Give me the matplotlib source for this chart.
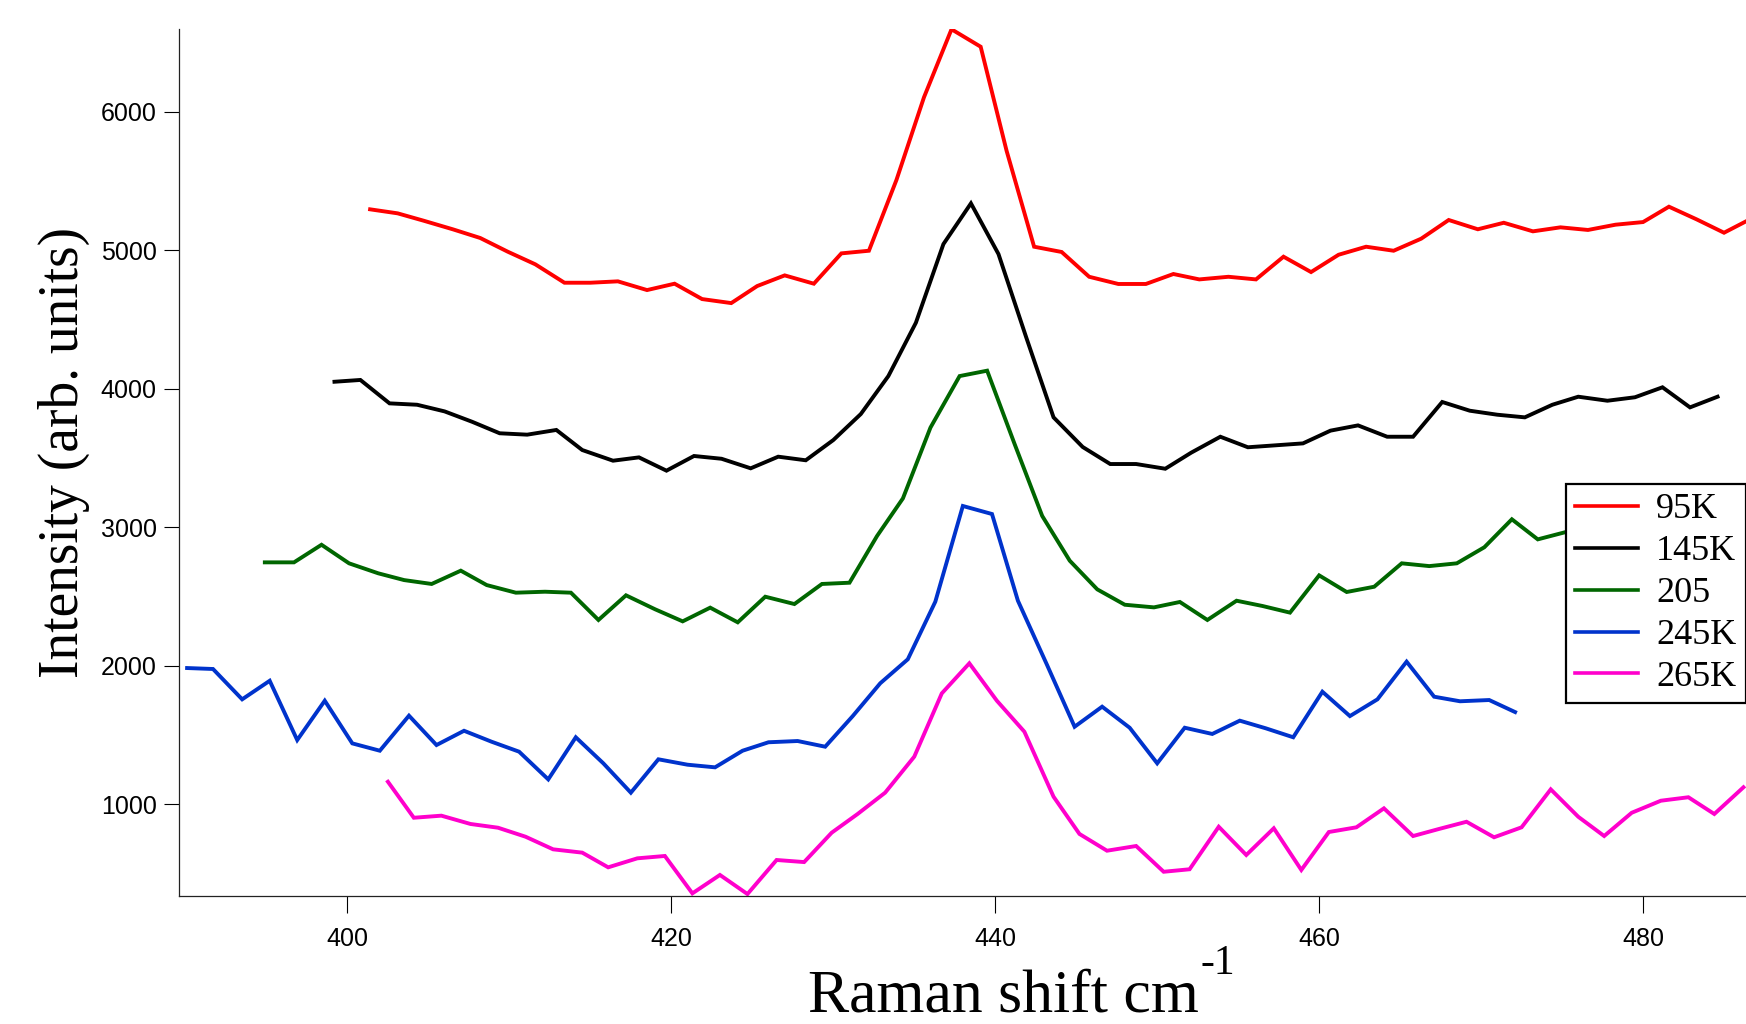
import matplotlib
matplotlib.use("Agg")
import matplotlib.pyplot as plt

# ---- data ----
x_95 = [401.4, 403.1, 404.7, 406.5, 408.2, 409.9, 411.6, 413.4, 415.0, 416.7, 418.5, 420.2, 421.9,
        423.7, 425.3, 427.0, 428.8, 430.5, 432.2, 433.9, 435.6, 437.3, 439.1, 440.7, 442.4, 444.1,
        445.8, 447.6, 449.3, 451.0, 452.6, 454.4, 456.1, 457.8, 459.5, 461.2, 462.9, 464.6, 466.3,
        468.0, 469.8, 471.4, 473.2, 474.9, 476.6, 478.3, 480.0, 481.6, 483.3, 485.0, 486.7]
y_95 = [5296, 5267, 5214, 5152, 5089, 4990, 4899, 4766, 4766, 4776, 4713, 4759, 4648,
        4619, 4742, 4819, 4759, 4978, 4997, 5508, 6105, 6596, 6470, 5719, 5026, 4988,
        4809, 4757, 4757, 4829, 4790, 4809, 4790, 4954, 4843, 4968, 5026, 4997, 5084,
        5219, 5152, 5199, 5137, 5166, 5147, 5185, 5204, 5315, 5224, 5127, 5230]

x_145 = [399.2, 400.8, 402.6, 404.3, 406.0, 407.7, 409.4, 411.1, 412.9, 414.5, 416.4, 418.0, 419.7,
         421.4, 423.1, 424.9, 426.6, 428.3, 430.0, 431.7, 433.4, 435.1, 436.8, 438.5, 440.2, 441.9,
         443.6, 445.4, 447.1, 448.7, 450.5, 452.1, 453.9, 455.6, 457.3, 459.0, 460.7, 462.4, 464.2,
         465.8, 467.6, 469.3, 471.0, 472.7, 474.4, 476.0, 477.8, 479.5, 481.2, 482.9, 484.6]
y_145 = [4051, 4064, 3895, 3885, 3837, 3762, 3679, 3669, 3703, 3558, 3481, 3505, 3409,
         3515, 3495, 3426, 3510, 3484, 3630, 3818, 4092, 4477, 5045, 5339, 4973, 4376,
         3794, 3580, 3457, 3457, 3423, 3539, 3654, 3578, 3592, 3606, 3698, 3736, 3654,
         3654, 3905, 3842, 3813, 3794, 3885, 3943, 3914, 3939, 4011, 3866, 3943]

x_205 = [394.9, 396.7, 398.4, 400.1, 401.9, 403.5, 405.2, 407.0, 408.6, 410.4, 412.2, 413.8, 415.5,
         417.2, 419.0, 420.7, 422.4, 424.1, 425.8, 427.6, 429.3, 431.0, 432.7, 434.3, 436.0, 437.8,
         439.5, 441.2, 442.9, 444.6, 446.3, 448.0, 449.8, 451.4, 453.1, 454.9, 456.5, 458.2, 460.0,
         461.7, 463.4, 465.1, 466.8, 468.5, 470.2, 471.9, 473.5, 475.3, 477.0]
y_205 = [2747, 2747, 2874, 2740, 2668, 2619, 2591, 2687, 2583, 2528, 2535, 2528, 2331,
         2509, 2408, 2321, 2420, 2314, 2499, 2446, 2591, 2600, 2937, 3209, 3720, 4092,
         4131, 3600, 3082, 2759, 2552, 2441, 2422, 2461, 2331, 2470, 2432, 2384, 2653,
         2533, 2571, 2740, 2720, 2740, 2856, 3058, 2913, 2968, 3050]

x_245 = [390.1, 391.7, 393.5, 395.2, 396.9, 398.6, 400.3, 402.0, 403.8, 405.5, 407.2, 408.9, 410.6,
         412.4, 414.1, 415.8, 417.5, 419.2, 421.0, 422.7, 424.4, 426.0, 427.8, 429.5, 431.2, 432.9,
         434.6, 436.3, 438.0, 439.8, 441.4, 443.2, 444.9, 446.6, 448.3, 450.0, 451.7, 453.4, 455.1,
         456.7, 458.4, 460.2, 461.9, 463.6, 465.4, 467.1, 468.7, 470.5, 472.1]
y_245 = [1984, 1977, 1758, 1892, 1464, 1748, 1440, 1387, 1640, 1428, 1531, 1452, 1380,
         1180, 1484, 1296, 1084, 1325, 1286, 1267, 1387, 1448, 1457, 1416, 1637, 1874,
         2047, 2463, 3154, 3096, 2470, 2006, 1560, 1705, 1553, 1296, 1553, 1508, 1604,
         1549, 1484, 1813, 1637, 1758, 2030, 1777, 1744, 1753, 1666]

x_265 = [402.5, 404.1, 405.8, 407.6, 409.3, 411.0, 412.7, 414.5, 416.1, 417.9, 419.6, 421.3, 423.0,
         424.7, 426.5, 428.2, 429.9, 431.5, 433.2, 435.0, 436.7, 438.4, 440.1, 441.8, 443.6, 445.2,
         446.9, 448.7, 450.4, 452.0, 453.8, 455.5, 457.2, 458.9, 460.6, 462.3, 464.0, 465.8, 467.4,
         469.1, 470.8, 472.5, 474.3, 476.0, 477.6, 479.3, 481.1, 482.8, 484.4, 486.2]
y_265 = [1163, 903, 918, 858, 831, 766, 675, 651, 545, 610, 627, 357, 490,
         352, 598, 583, 795, 930, 1084, 1344, 1801, 2018, 1748, 1524, 1055, 786,
         665, 699, 513, 531, 838, 634, 827, 526, 800, 834, 971, 771, 822,
         874, 762, 834, 1108, 910, 771, 939, 1026, 1051, 930, 1123]

labels = ["95K", "145K", "205", "245K", "265K"]
colors = ["#ff0000", "#000000", "#006600", "#0033cc", "#ff00cc"]
xticks = [400, 420, 440, 460, 480]
yticks = [1000, 2000, 3000, 4000, 5000, 6000]

series = [(x_95, y_95), (x_145, y_145), (x_205, y_205), (x_245, y_245), (x_265, y_265)]

W, H, DPI = 1746, 1024, 100
fig = plt.figure(figsize=(W / DPI, H / DPI), dpi=DPI)
fig.patch.set_facecolor("white")

ax = fig.add_axes([179 / W, 1 - 896 / H, (1805 - 179) / W, (896 - 29) / H])
for (xs, ys), lab, col in zip(series, labels, colors):
    ax.plot(xs, ys, color=col, lw=2.8, label=lab, solid_joinstyle="miter")

ax.set_xlim(389.6, 490)
ax.set_ylim(338, 6598)
ax.set_xticks(xticks)
ax.set_yticks(yticks)
for s in ["top", "right"]:
    ax.spines[s].set_visible(False)
for s in ["left", "bottom"]:
    ax.spines[s].set_linewidth(0.9)
    ax.spines[s].set_color("#222222")

ax.tick_params(axis="x", direction="out", length=12, width=0.8, pad=10, labelsize=18)
ax.tick_params(axis="y", direction="out", length=11, width=0.8, pad=5, labelsize=18)
for t in ax.get_xticklabels() + ax.get_yticklabels():
    t.set_fontfamily("Liberation Sans")

# axis titles
fig.text(64 / W, 1 - 452 / H, "Intensity (arb. units)", rotation=90, ha="center", va="center",
         family="Liberation Serif", fontsize=40)
fig.text(808 / W, 1 - 1011 / H, "Raman shift cm", ha="left", va="baseline",
         family="Liberation Serif", fontsize=44.5)
fig.text(1200 / W, 1 - 944 / H, "-1", ha="left", va="top",
         family="Liberation Serif", fontsize=30)

leg = ax.legend(loc="upper left", bbox_to_anchor=(1566 / W, 1 - 484 / H),
                bbox_transform=fig.transFigure, borderaxespad=0,
                prop={"family": "Liberation Serif", "size": 26},
                frameon=True, fancybox=False, framealpha=1, edgecolor="black",
                handlelength=1.75, handletextpad=0.5, labelspacing=0.24, borderpad=0.25)
leg.get_frame().set_linewidth(1.6)
for ln in leg.get_lines():
    ln.set_linewidth(2.6)

fig.savefig("out.png", dpi=DPI)
